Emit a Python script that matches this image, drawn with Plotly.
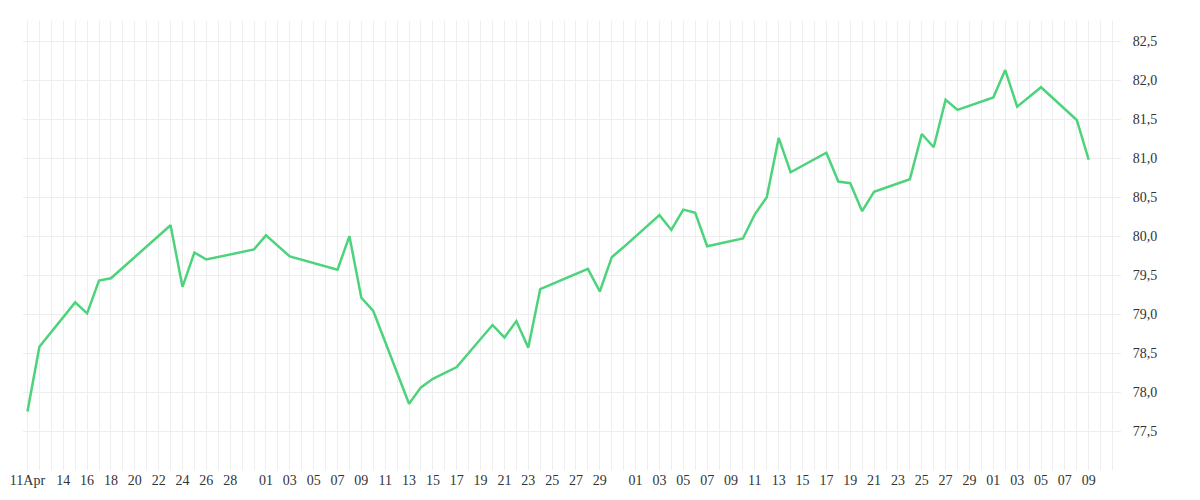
import plotly.graph_objects as go

dates = [
    "2024-04-11", "2024-04-12", "2024-04-15", "2024-04-16", "2024-04-17", "2024-04-18",
    "2024-04-23", "2024-04-24", "2024-04-25", "2024-04-26", "2024-04-30",
    "2024-05-01", "2024-05-03", "2024-05-07", "2024-05-08", "2024-05-09", "2024-05-10",
    "2024-05-13", "2024-05-14", "2024-05-15", "2024-05-17", "2024-05-20", "2024-05-21",
    "2024-05-22", "2024-05-23", "2024-05-24", "2024-05-28", "2024-05-29", "2024-05-30",
    "2024-05-31", "2024-06-03", "2024-06-04", "2024-06-05", "2024-06-06", "2024-06-07",
    "2024-06-10", "2024-06-11", "2024-06-12", "2024-06-13", "2024-06-14", "2024-06-17",
    "2024-06-18", "2024-06-19", "2024-06-20", "2024-06-21", "2024-06-24", "2024-06-25",
    "2024-06-26", "2024-06-27", "2024-06-28", "2024-07-01", "2024-07-02", "2024-07-03",
    "2024-07-05", "2024-07-08", "2024-07-09",
]
values = [
    77.75, 78.58, 79.15, 79.01, 79.43, 79.46,
    80.14, 79.35, 79.79, 79.70, 79.83,
    80.01, 79.74, 79.57, 80.00, 79.21, 79.04,
    77.85, 78.06, 78.17, 78.32, 78.86, 78.70,
    78.91, 78.57, 79.32, 79.58, 79.29, 79.73,
    79.86, 80.27, 80.08, 80.34, 80.30, 79.87,
    79.97, 80.28, 80.50, 81.26, 80.82, 81.07,
    80.70, 80.68, 80.32, 80.57, 80.73, 81.31,
    81.14, 81.75, 81.62, 81.78, 82.13, 81.66,
    81.91, 81.49, 80.98,
]

tick_dates = (["2024-04-11"] + ["2024-04-%02d" % d for d in range(14, 29, 2)]
              + ["2024-05-%02d" % d for d in range(1, 30, 2)]
              + ["2024-06-%02d" % d for d in range(1, 30, 2)]
              + ["2024-07-%02d" % d for d in range(1, 10, 2)])
tick_labels = ["11Apr"] + [t[-2:] for t in tick_dates[1:]]

fig = go.Figure(go.Scatter(
    x=dates, y=values, mode="lines",
    line=dict(color="#4cd37b", width=2.5),
    hoverinfo="x+y",
))

fig.update_layout(
    width=1200, height=500,
    margin=dict(l=15, r=87, t=13, b=38),
    paper_bgcolor="white", plot_bgcolor="white",
    separators=",.",
    showlegend=False,
    font=dict(family="Liberation Serif", size=14, color="#333333"),
)
fig.update_xaxes(
    type="date", automargin=False,
    range=["2024-04-10 15:00", "2024-07-11 17:00"],
    tickmode="array", tickvals=tick_dates, ticktext=tick_labels,
    showgrid=True, gridcolor="#eeeeee", gridwidth=1,
    minor=dict(dtick=86400000, showgrid=True, gridcolor="#eeeeee", gridwidth=1),
    showline=False, zeroline=False, ticks="",
)
fig.update_yaxes(
    side="right", automargin=False, range=[77.0, 82.76],
    tickmode="array", tickvals=[77.5, 78.0, 78.5, 79.0, 79.5, 80.0, 80.5, 81.0, 81.5, 82.0, 82.5],
    tickformat=".1f",
    showgrid=True, gridcolor="#eeeeee", gridwidth=1,
    showline=False, zeroline=False, ticks="outside", ticklen=8, tickcolor="white",
)
fig.write_html("out.html")
